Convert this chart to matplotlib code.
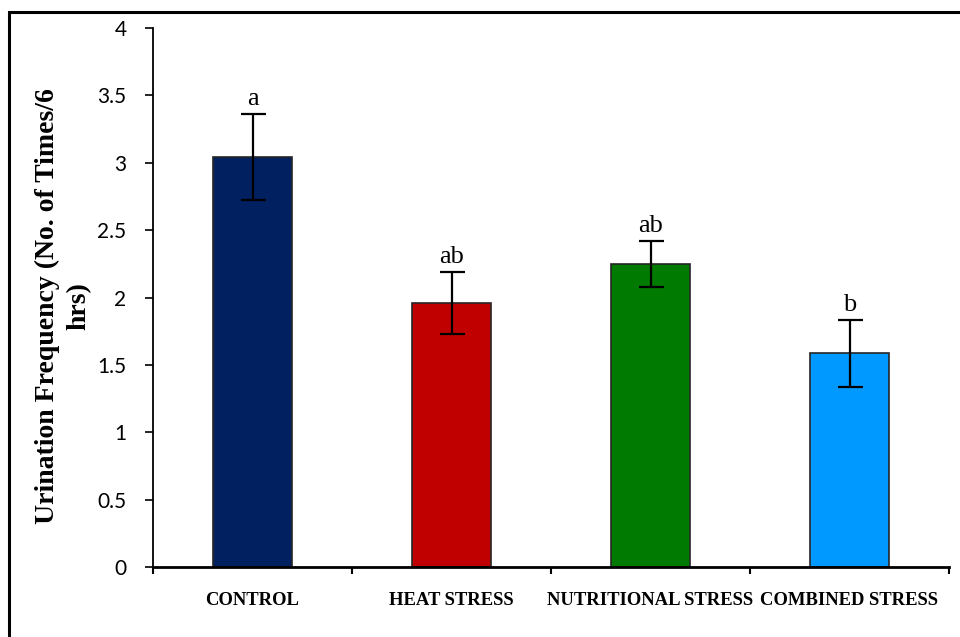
import matplotlib
matplotlib.use('Agg')
import matplotlib.pyplot as plt
from matplotlib.patches import Rectangle

# данные
categories = ['CONTROL', 'HEAT STRESS', 'NUTRITIONAL STRESS', 'COMBINED STRESS']
means = [3.04, 1.96, 2.25, 1.585]
errors = [0.32, 0.23, 0.17, 0.25]
letters = ['a', 'ab', 'ab', 'b']
colors = ['#002060', '#C00000', '#007A00', '#0099FF']
yticks = [0, 0.5, 1, 1.5, 2, 2.5, 3, 3.5, 4]

fig = plt.figure(figsize=(9.6, 6.37), dpi=100)
ax = fig.add_axes([153 / 960, 1 - 567 / 637, 796 / 960, 539 / 637])

x = list(range(len(categories)))
ax.bar(x, means, width=0.4, color=colors, edgecolor='#262626', linewidth=1.2, zorder=2)
ax.errorbar(x, means, yerr=errors, fmt='none', ecolor='black',
            elinewidth=1.6, capsize=9, capthick=1.6, zorder=3)

for xi, m, e, lab in zip(x, means, errors, letters):
    ax.annotate(lab, (xi, m + e), xytext=(0, 3), textcoords='offset points',
                ha='center', va='bottom', fontsize=19, family='Liberation Serif')

ax.set_xlim(-0.5, len(categories) - 0.5)
ax.set_ylim(0, 4)
ax.set_yticks(yticks)
ax.set_yticklabels([f'{t:g}' for t in yticks], fontsize=15, family='Lato')

# деления по оси X на границах категорий
ax.set_xticks([i - 0.5 for i in range(len(categories) + 1)], minor=False)
ax.set_xticklabels([])
ax.set_xticks(x, minor=True)
ax.set_xticklabels(categories, minor=True, fontsize=13.4, fontweight='bold',
                   family='Liberation Serif')
ax.tick_params(axis='x', which='minor', length=0, pad=18)
ax.tick_params(axis='x', which='major', direction='out', length=5, width=1.5)
ax.tick_params(axis='y', direction='out', length=6, width=1.2, pad=13)

for s in ['top', 'right']:
    ax.spines[s].set_visible(False)
ax.spines['left'].set_linewidth(1.3)
ax.spines['bottom'].set_linewidth(2)

fig.text(47 / 960, 1 - 306 / 637, 'Urination Frequency (No. of Times/6',
         rotation=90, ha='center', va='center', fontsize=20, fontweight='bold',
         family='Liberation Serif')
fig.text(79 / 960, 1 - 306 / 637, 'hrs)', rotation=90, ha='center', va='center',
         fontsize=20, fontweight='bold', family='Liberation Serif')

# рамка вокруг рисунка
fig.patches.append(Rectangle((9 / 960, -0.05), 1.05, 1 - 12 / 637 + 0.05,
                             transform=fig.transFigure, fill=False,
                             edgecolor='black', linewidth=2.2))

plt.savefig('out.png', dpi=100)
plt.close()
